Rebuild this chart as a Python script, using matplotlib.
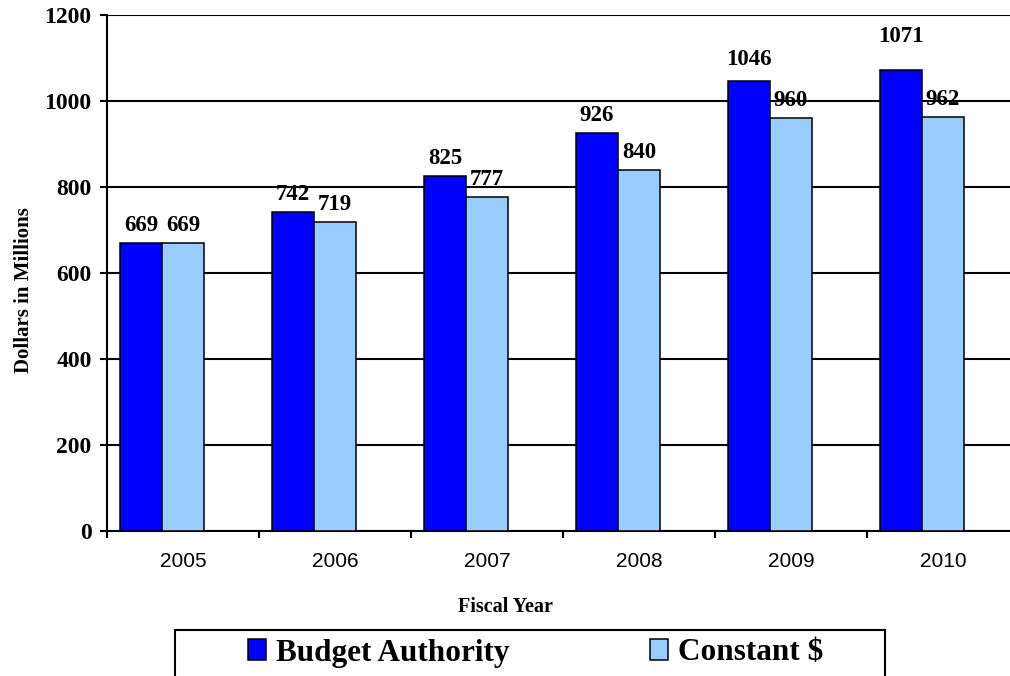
import numpy as np
import matplotlib
matplotlib.use('Agg')
import matplotlib.pyplot as plt
from matplotlib.patches import Rectangle, Patch

years = ['2005', '2006', '2007', '2008', '2009', '2010']
budget_authority = [669, 742, 825, 926, 1046, 1071]
constant_dollars = [669, 719, 777, 840, 960, 962]

serif = 'Liberation Serif'
sans = 'Liberation Sans'
c_ba = '#0000FF'
c_cd = '#99CCFF'

# extra lift (points) of some value labels, as placed in the source chart
lift_ba = [0, 0, 0, 0, 3, 12]
lift_cd = [0, 0, 0, 0, 0, 0]

fig = plt.figure(figsize=(10.1, 6.76), dpi=100)
# axes runs a little past the right edge, like the original export
ax = fig.add_axes([107/1010, 145/676, 912/1010, 516/676])

x = np.arange(len(years))
w = 0.276
b1 = ax.bar(x - w, budget_authority, w, color=c_ba, edgecolor='black', linewidth=1.1, zorder=3)
b2 = ax.bar(x, constant_dollars, w, color=c_cd, edgecolor='black', linewidth=1.1, zorder=3)

for bars, vals, lifts in ((b1, budget_authority, lift_ba), (b2, constant_dollars, lift_cd)):
	for r, v, d in zip(bars, vals, lifts):
		ax.annotate(str(v), (r.get_x() + r.get_width()/2, v), xytext=(0, 5 + d), textcoords='offset points',
			ha='center', va='bottom', fontsize=16.5, fontweight='bold', family=serif, zorder=4)

ax.set_xlim(-0.5, len(years) - 0.5)
ax.set_ylim(0, 1200)
ax.set_yticks(np.arange(0, 1201, 200))
ax.set_yticklabels([str(v) for v in range(0, 1201, 200)], fontsize=17, fontweight='bold', family=serif)
ax.set_xticks(x)
ax.set_xticklabels(years, fontsize=15, family=sans)
ax.set_xticks(np.arange(-0.5, len(years)), minor=True)
ax.tick_params(axis='x', which='major', length=0, pad=15)
ax.tick_params(axis='x', which='minor', length=5, width=1.5, direction='out')
ax.tick_params(axis='y', length=5, width=1.5, direction='out', pad=6)

ax.grid(axis='y', color='black', linewidth=1.5)
ax.set_axisbelow(True)
for s in ('top', 'right'):
	ax.spines[s].set_visible(False)
for s in ('left', 'bottom'):
	ax.spines[s].set_linewidth(1.5)

ax.set_ylabel('Dollars in Millions', fontsize=15, fontweight='bold', family=serif, va='center')
ax.yaxis.set_label_coords((24 - 107)/912, (531 - 290)/516)
ax.set_xlabel('Fiscal Year', fontsize=14.5, fontweight='bold', family=serif, va='center')
ax.xaxis.set_label_coords((505 - 107)/912, -(607 - 531)/516)

# legend box, cut by the lower edge as in the source
fig.patches.append(Rectangle((175/1010, -0.05), (885 - 175)/1010, 0.05 + 46/676, transform=fig.transFigure,
	fill=False, edgecolor='black', linewidth=1.5))
handles = [Patch(facecolor=c_ba, edgecolor='black', linewidth=1.1, label='Budget Authority'),
	Patch(facecolor=c_cd, edgecolor='black', linewidth=1.1, label='Constant $')]
fig.legend(handles=handles, loc='center', bbox_to_anchor=(536/1010, 1 - 653/676), ncol=2, frameon=False,
	prop={'family': serif, 'weight': 'bold', 'size': 22.5}, handlelength=0.57, handleheight=0.67,
	handletextpad=0.33, columnspacing=4.5, borderpad=0)

fig.savefig('out.png', dpi=100)
